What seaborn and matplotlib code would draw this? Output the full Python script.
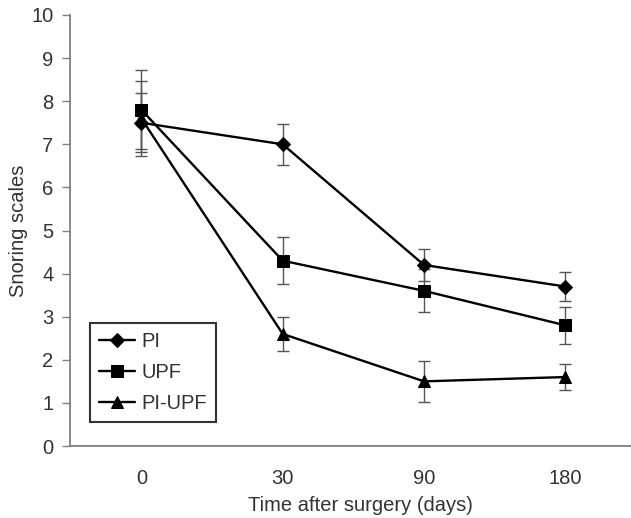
import numpy as np
import pandas as pd
import matplotlib
matplotlib.use('Agg')
import matplotlib.pyplot as plt
import seaborn as sns

# Data
times = ['0', '30', '90', '180']
groups = ['PI', 'UPF', 'PI-UPF']
pi_mean = [7.5, 7.0, 4.2, 3.7]
pi_sd = [0.68, 0.47, 0.38, 0.33]
upf_mean = [7.8, 4.3, 3.6, 2.8]
upf_sd = [0.92, 0.54, 0.5, 0.43]
piupf_mean = [7.6, 2.6, 1.5, 1.6]
piupf_sd = [0.88, 0.39, 0.48, 0.3]

means = {'PI': pi_mean, 'UPF': upf_mean, 'PI-UPF': piupf_mean}
sds = {'PI': pi_sd, 'UPF': upf_sd, 'PI-UPF': piupf_sd}
markers = {'PI': 'D', 'UPF': 's', 'PI-UPF': '^'}
msize = {'PI': 7, 'UPF': 8, 'PI-UPF': 9}

df = pd.DataFrame({
    'Time': np.tile(times, len(groups)),
    'Score': pi_mean + upf_mean + piupf_mean,
    'Group': np.repeat(groups, len(times)),
})

sns.set_style('white')
plt.rcParams['font.family'] = ['Liberation Sans', 'DejaVu Sans']
fs = 14.5

fig = plt.figure(figsize=(6.31, 5.18), dpi=100)
ax = fig.add_axes([70 / 631, (518 - 446) / 518, 566 / 631, 431 / 518])

# error bars first so the lines and markers sit on top
for g in groups:
    ax.errorbar(range(len(times)), means[g], yerr=sds[g], fmt='none',
                ecolor='#555555', elinewidth=1.0, capsize=4.5, capthick=1.0, zorder=1)

for g in groups:
    sub = df[df['Group'] == g]
    sns.lineplot(data=sub, x=[times.index(t) for t in sub['Time']], y='Score',
                 color='black', linewidth=1.7, marker=markers[g],
                 markersize=msize[g], markeredgecolor='black',
                 label=g, ax=ax, zorder=3, errorbar=None)

ax.set_xlim(-0.505, 3.5)
ax.set_ylim(0, 10)
ax.set_xticks(range(len(times)))
ax.set_xticklabels(times)
ax.set_yticks(range(0, 11))

for s in ['top', 'right']:
    ax.spines[s].set_visible(False)
for s in ['left', 'bottom']:
    ax.spines[s].set_color('#808080')
    ax.spines[s].set_linewidth(1.3)

ax.tick_params(axis='y', left=True, direction='out', length=6, width=1.0,
               color='#808080', labelsize=fs, labelcolor='#333333', pad=6)
ax.tick_params(axis='x', bottom=False, labelsize=fs, labelcolor='#333333', pad=13)

ax.set_xlabel('Time after surgery (days)', fontsize=fs, color='#333333')
ax.xaxis.set_label_coords(0.514, -0.117)
ax.set_ylabel('Snoring scales', fontsize=fs, color='#333333', labelpad=2)

leg = ax.legend(loc='lower left', bbox_to_anchor=(0.035, 0.056), borderaxespad=0,
                fontsize=fs, frameon=True, fancybox=False, handlelength=1.8,
                handletextpad=0.3, labelspacing=0.6, borderpad=0.45)
leg.get_frame().set_edgecolor('black')
leg.get_frame().set_linewidth(1.5)
for t in leg.get_texts():
    t.set_color('#333333')

fig.savefig('out.png', dpi=100)
